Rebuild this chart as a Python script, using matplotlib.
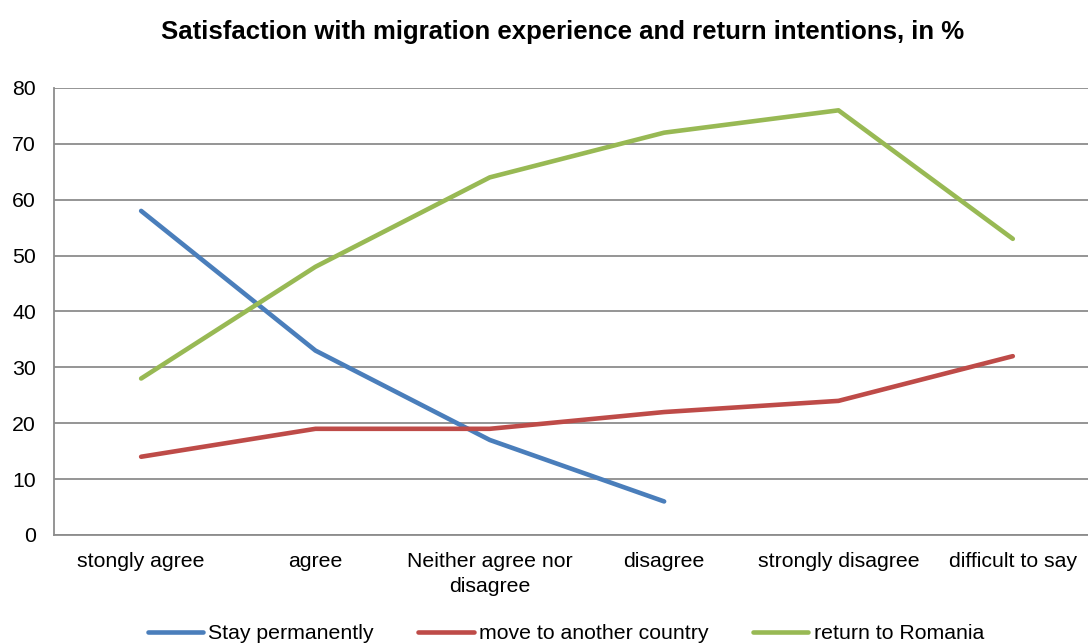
from matplotlib import pyplot as plt
import numpy as np

plt.rcParams['font.family'] = ['Liberation Sans', 'DejaVu Sans']

CATEGORIES = ["stongly agree", "agree", "Neither agree nor\ndisagree", "disagree",
              "strongly disagree", "difficult to say"]
STAY = [58, 33, 17, 6]
MOVE = [14, 19, 19, 22, 24, 32]
RETURN = [28, 48, 64, 72, 76, 53]

SERIES = [
    ("Stay permanently", STAY, "#4A7EBB"),
    ("move to another country", MOVE, "#BE4B48"),
    ("return to Romania", RETURN, "#98B954"),
]

fig = plt.figure(figsize=(10.88, 6.44), dpi=100)
ax = fig.add_axes([0.0496, 0.1693, 0.9614, 0.6941])

x = np.arange(len(CATEGORIES))
for label, vals, color in SERIES:
    ax.plot(x[:len(vals)], vals, color=color, linewidth=3.3, label=label,
            solid_capstyle="round", solid_joinstyle="round")

ax.set_xlim(-0.5, len(CATEGORIES) - 0.5)
ax.set_ylim(0, 80)
ax.set_yticks(range(0, 81, 10))
ax.set_xticks(x)
ax.set_xticklabels(CATEGORIES, fontsize=15.3, linespacing=1.4)
ax.tick_params(axis="y", labelsize=15.3, length=0, pad=13)
ax.tick_params(axis="x", length=0, pad=12)
ax.grid(axis="y", color="#8c8c8c", linewidth=1.3)
ax.set_axisbelow(True)
for side in ["top", "right"]:
    ax.spines[side].set_visible(False)
for side in ["left", "bottom"]:
    ax.spines[side].set_color("#8c8c8c")
    ax.spines[side].set_linewidth(1.3)

fig.text(0.517, 0.951, "Satisfaction with migration experience and return intentions, in %",
         ha="center", va="center", fontsize=18.5, fontweight="bold")

fig.legend(loc="center", bbox_to_anchor=(0.52, 0.016), ncol=3, frameon=False,
           fontsize=15.3, handlelength=2.6, handletextpad=0.25, columnspacing=2.1)

fig.savefig("out.png", dpi=100)
